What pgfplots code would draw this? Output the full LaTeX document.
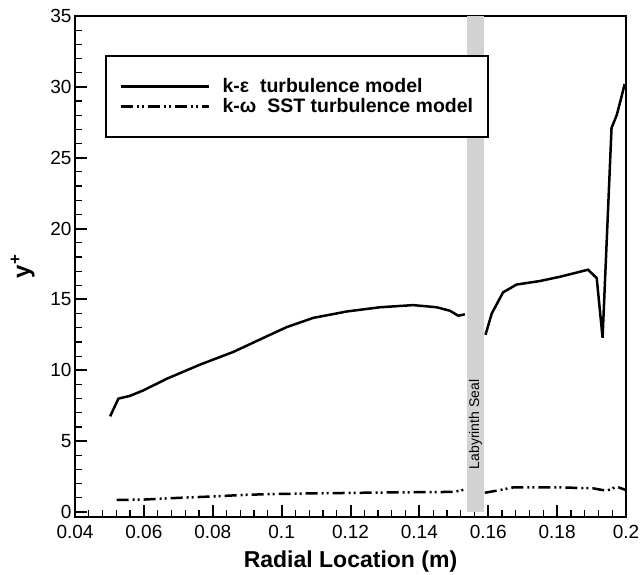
\documentclass[border=0pt]{standalone}
\usepackage{pgfplots}
\pgfplotsset{compat=1.18}
\usepackage{fontspec}
\setmainfont{Liberation Sans}
\definecolor{bandgray}{HTML}{D3D3D3}
\begin{document}
\begin{tikzpicture}
\useasboundingbox (-75pt,-58pt) rectangle (565pt,517pt);
\begin{axis}[
  at={(0pt,0pt)}, anchor=south west,
  scale only axis, width=551pt, height=501pt,
  xmin=0.04, xmax=0.2, ymin=-0.35, ymax=35,
  xtick={0.04,0.06,0.08,0.1,0.12,0.14,0.16,0.18,0.2},
  xticklabels={0.04,0.06,0.08,0.1,0.12,0.14,0.16,0.18,0.2},
  ytick={0,5,10,15,20,25,30,35},
  minor x tick num=4, minor y tick num=4,
  tick align=inside, xtick pos=left, ytick pos=left,
  major tick length=12pt, minor tick length=7pt,
  every major tick/.style={black, line width=2pt},
  every minor tick/.style={black, line width=1.2pt},
  axis line style={line width=2.5pt},
  /pgf/number format/assume math mode=true,
  tick label style={font=\fontsize{19}{20}\selectfont},
  xticklabel style={yshift=-5pt},
  xlabel={Radial Location (m)},
  xlabel style={font=\bfseries\fontsize{23}{25}\selectfont, at={(axis description cs:0.5,-0.088)}, anchor=center},
  ylabel={y\textsuperscript{+}},
  ylabel style={font=\bfseries\fontsize{24}{26}\selectfont, at={(axis description cs:-0.095,0.5)}, anchor=center},
  legend style={at={(rel axis cs:0.0545,0.922)}, anchor=north west, draw=black, line width=2.2pt, fill=white,
    font=\bfseries\fontsize{19.5}{21}\selectfont, inner xsep=14pt, inner ysep=21pt, row sep=1pt,
    nodes={inner sep=1pt, text depth=3pt, text height=14pt},
    /tikz/every odd column/.append style={column sep=11pt}},
  legend cell align=left,
  legend image code/.code={\draw[#1] (0pt,0pt) -- (88pt,0pt);},
]
\addplot[fill=bandgray, draw=none, forget plot] coordinates {(0.1538,0) (0.1588,0) (0.1588,35) (0.1538,35)} -- cycle;
\node[rotate=90, anchor=west, inner sep=0pt, font=\fontsize{14}{15}\selectfont] at (axis cs:0.1563,3.0) {Labyrinth Seal};

\addplot[black, line width=2.5pt] coordinates {
(0.0502,6.75) (0.0526,8.0) (0.056,8.2) (0.060,8.6) (0.0666,9.4) (0.0763,10.4) (0.086,11.3)
(0.0957,12.4) (0.1015,13.05) (0.1092,13.7) (0.1189,14.15) (0.1286,14.45) (0.1382,14.6)
(0.145,14.45) (0.1489,14.2) (0.1513,13.85) (0.1532,13.95)};
\addlegendentry{k-ε\ \ turbulence model}
\addplot[black, line width=2.5pt, dash pattern=on 12pt off 4pt on 2pt off 3pt on 2pt off 4pt] coordinates {
(0.0521,0.85) (0.06,0.88) (0.07,1.0) (0.08,1.1) (0.09,1.22) (0.1,1.28) (0.11,1.32) (0.12,1.35)
(0.13,1.38) (0.14,1.4) (0.15,1.42) (0.1535,1.6)};
\addlegendentry{k-ω\ \ SST turbulence model}

\addplot[black, line width=2.5pt, forget plot] coordinates {
(0.1592,12.5) (0.161,14.0) (0.1643,15.5) (0.1682,16.05) (0.175,16.3) (0.1808,16.6) (0.189,17.1)
(0.1915,16.5) (0.1932,12.3) (0.1958,27.1) (0.1973,28.0) (0.1987,29.3) (0.1996,30.2)};
\addplot[black, line width=2.5pt, dash pattern=on 12pt off 4pt on 2pt off 3pt on 2pt off 4pt, forget plot] coordinates {
(0.159,1.36) (0.1634,1.55) (0.1673,1.74) (0.1808,1.74) (0.1905,1.67) (0.1944,1.5) (0.1973,1.79) (0.2,1.55)};
\end{axis}
\end{tikzpicture}
\end{document}
